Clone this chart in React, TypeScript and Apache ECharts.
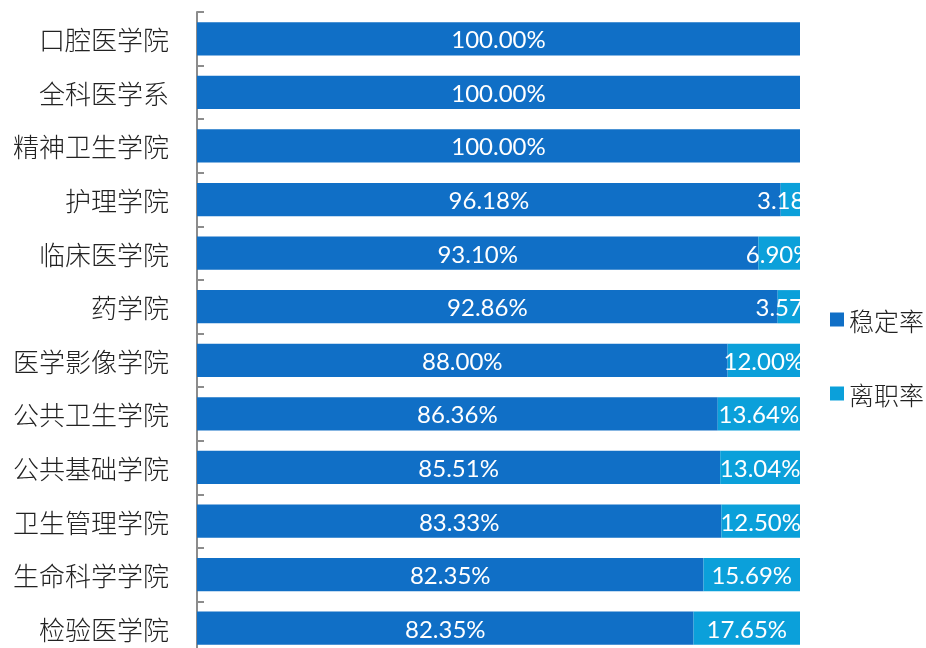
import React, { useEffect, useRef } from "react";
import * as echarts from "echarts";

const categories = [
  "口腔医学院",
  "全科医学系",
  "精神卫生学院",
  "护理学院",
  "临床医学院",
  "药学院",
  "医学影像学院",
  "公共卫生学院",
  "公共基础学院",
  "卫生管理学院",
  "生命科学学院",
  "检验医学院",
];
const stableRate = [100, 100, 100, 96.18, 93.1, 92.86, 88.0, 86.36, 85.51, 83.33, 82.35, 82.35];
const leaveRate = [0, 0, 0, 3.18, 6.9, 3.57, 12.0, 13.64, 13.04, 12.5, 15.69, 17.65];
const seriesNames = ["稳定率", "离职率"];

const DARK = "#106fc6";
const LIGHT = "#0ba0da";

export default function App() {
  const ref = useRef<HTMLDivElement>(null);
  useEffect(() => {
    if (!ref.current) return;
    const chart = echarts.init(ref.current, undefined, { renderer: "svg" });
    const totals = stableRate.map((s, i) => s + leaveRate[i]);
    const stableData = stableRate.map((s, i) => ({ value: (s / totals[i]) * 100, raw: s }));
    const leaveData = leaveRate.map((l, i) => ({
      value: (l / totals[i]) * 100,
      raw: l,
      label: { show: l > 0 },
    }));
    const labelStyle = {
      show: true,
      position: "inside" as const,
      color: "#ffffff",
      fontFamily: "Lato, 'Open Sans', sans-serif",
      fontSize: 24,
      formatter: (p: any) => p.data.raw.toFixed(2) + "%",
    };
    chart.setOption({
      animation: false,
      grid: { left: 197, right: 126, top: 12, height: 643, containLabel: false },
      legend: {
        orient: "vertical",
        left: 825,
        top: 302,
        itemWidth: 14,
        itemHeight: 14,
        itemGap: 49,
        icon: "rect",
        textStyle: {
          fontFamily: "'Noto Sans CJK SC', sans-serif",
          fontSize: 25,
          color: "#222",
          fontWeight: 300,
        },
        data: seriesNames,
      },
      xAxis: { type: "value", min: 0, max: 100, show: false },
      yAxis: {
        type: "category",
        inverse: true,
        data: categories,
        axisLine: { show: true, lineStyle: { color: "#8c8c8c", width: 2 } },
        axisTick: { show: true, inside: true, length: 7, lineStyle: { color: "#8c8c8c", width: 2 } },
        axisLabel: {
          margin: 28,
          fontFamily: "'Noto Sans CJK SC', sans-serif",
          fontSize: 26,
          fontWeight: 300,
          color: "#222",
        },
        splitLine: { show: false },
      },
      series: [
        {
          name: seriesNames[0],
          type: "bar",
          stack: "total",
          barCategoryGap: "38%",
          itemStyle: { color: DARK },
          label: labelStyle,
          data: stableData,
        },
        {
          name: seriesNames[1],
          type: "bar",
          stack: "total",
          barCategoryGap: "38%",
          itemStyle: { color: LIGHT },
          label: labelStyle,
          data: leaveData,
        },
      ],
      graphic: [
        {
          type: "rect",
          z: 1000,
          shape: { x: 801, y: 0, width: 22, height: 700 },
          style: { fill: "#ffffff" },
        },
      ],
    });
    return () => chart.dispose();
  }, []);
  return (
    <div
      ref={ref}
      style={{ position: "fixed", left: 0, top: 0, width: 926, height: 700 }}
    />
  );
}
